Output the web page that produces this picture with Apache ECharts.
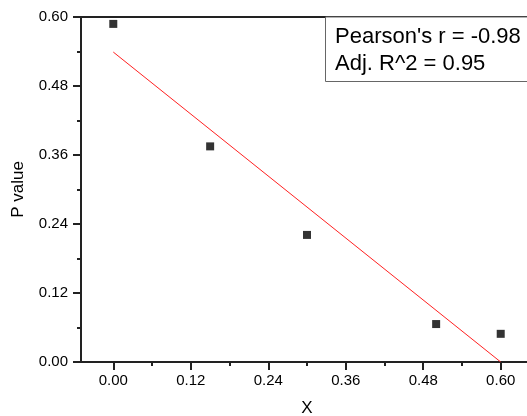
<!DOCTYPE html>
<html>
<head>
<meta charset="utf-8">
<script src="https://cdn.jsdelivr.net/npm/echarts@6/dist/echarts.min.js"></script>
<style>html,body{margin:0;padding:0;background:#fff}#c{width:527px;height:416px}</style>
</head>
<body>
<div id="c"></div>
<script>
var xValues = [0.00, 0.15, 0.30, 0.50, 0.60];
var pValues = [0.588, 0.375, 0.221, 0.066, 0.049];
var fitX = [0.00, 0.60];
var fitY = [0.539, 0.000];
var xTicks = [0.00, 0.12, 0.24, 0.36, 0.48, 0.60];
var xMinorTicks = [0.06, 0.18, 0.30, 0.42, 0.54];
var statLines = ["Pearson's r = -0.98", "Adj. R^2 = 0.95"];

var F = 'Liberation Sans, Arial, sans-serif';
var chart = echarts.init(document.getElementById('c'), null, {renderer: 'canvas'});
var axisCol = '#222';
chart.setOption({
  animation: false,
  backgroundColor: '#fff',
  grid: {left: 81, top: 17, bottom: 54, right: -6, containLabel: false, outerBoundsMode: 'none'},
  xAxis: [{
    type: 'value', min: -0.05, max: 0.65,
    name: 'X', nameLocation: 'middle', nameGap: 38,
    nameTextStyle: {fontFamily: F, fontSize: 17, color: '#000'},
    axisLine: {show: true, onZero: false, lineStyle: {color: axisCol, width: 2}},
    axisTick: {show: true, inside: false, length: 8, lineStyle: {color: axisCol, width: 2},
      customValues: xTicks},
    axisLabel: {fontFamily: F, fontSize: 15, color: '#000', margin: 11,
      customValues: xTicks,
      formatter: function(v){return v.toFixed(2);}},
    splitLine: {show: false}
  }, {
    type: 'value', min: -0.05, max: 0.65, position: 'top',
    axisLine: {show: true, onZero: false, lineStyle: {color: axisCol, width: 2}},
    axisTick: {show: false}, axisLabel: {show: false}, splitLine: {show: false}
  }, {
    type: 'value', min: -0.05, max: 0.65, position: 'bottom',
    axisLine: {show: false},
    axisTick: {show: true, length: 4, lineStyle: {color: axisCol, width: 2},
      customValues: xMinorTicks},
    axisLabel: {show: false}, splitLine: {show: false}
  }],
  yAxis: [{
    type: 'value', min: 0, max: 0.60, interval: 0.12,
    name: 'P value', nameLocation: 'middle', nameGap: 54, nameRotate: 90,
    nameTextStyle: {fontFamily: F, fontSize: 17, color: '#000'},
    axisLine: {show: true, onZero: false, lineStyle: {color: axisCol, width: 2}},
    axisTick: {show: true, length: 8, lineStyle: {color: axisCol, width: 2}},
    minorTick: {show: true, splitNumber: 2, length: 4, lineStyle: {color: axisCol, width: 2}},
    axisLabel: {fontFamily: F, fontSize: 15, color: '#000', margin: 13,
      formatter: function(v){return v.toFixed(2);}},
    splitLine: {show: false}
  }],
  series: [{
    type: 'line', data: fitX.map(function(x,i){return [x, fitY[i]];}),
    showSymbol: false, symbol: 'none', lineStyle: {color: '#ff2020', width: 1}, z: 2
  }, {
    type: 'scatter', data: xValues.map(function(x,i){return [x, pValues[i]];}),
    symbol: 'rect', symbolSize: 8, itemStyle: {color: '#000'}, z: 3
  }],
  graphic: [{
    type: 'rect', shape: {x: 325.5, y: 17, width: 210, height: 64.5},
    style: {fill: '#fff', stroke: '#666', lineWidth: 1}, z: 10
  }, {
    type: 'text', x: 335, y: 37, z: 11,
    style: {text: statLines[0], font: '22px ' + F, fill: '#000', textVerticalAlign: 'middle'}
  }, {
    type: 'text', x: 335, y: 64, z: 11,
    style: {text: statLines[1], font: '22px ' + F, fill: '#000', textVerticalAlign: 'middle'}
  }]
});
</script>
</body>
</html>
